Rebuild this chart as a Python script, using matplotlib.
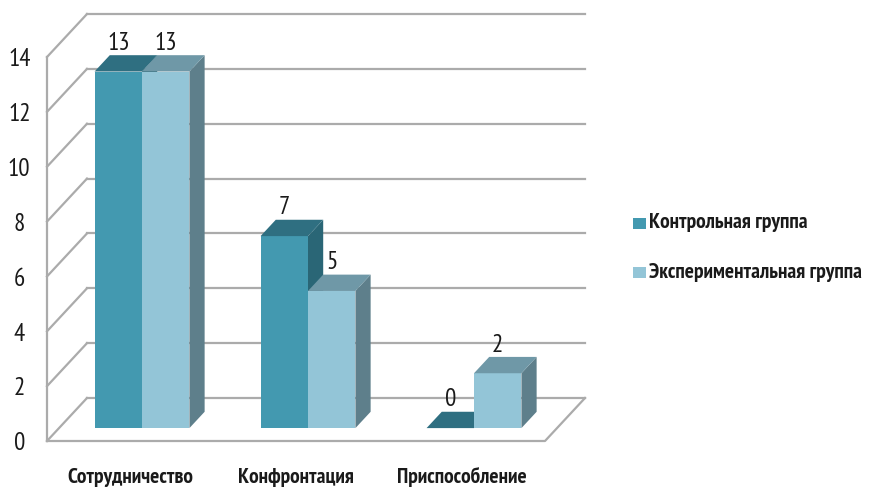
import matplotlib
matplotlib.use("Agg")
import matplotlib.pyplot as plt
from matplotlib.patches import Polygon

plt.rcParams['font.family'] = ['PT Sans Narrow', 'DejaVu Sans']

categories = ["Сотрудничество", "Конфронтация", "Приспособление"]
series_names = ["Контрольная группа", "Экспериментальная группа"]
control = [13, 7, 0]
experimental = [13, 5, 2]
yticks = [0, 2, 4, 6, 8, 10, 12, 14]

front_colors = ["#4399B0", "#93C5D7"]
top_colors = ["#2F6F81", "#6F98A7"]
side_colors = ["#2A6676", "#5E7F8B"]
grid_color = "#ABABAB"

W, H = 870, 488
fig = plt.figure(figsize=(W / 100, H / 100), dpi=100)
ax = fig.add_axes([47 / W, (H - 441) / H, (545 - 47) / W, (441 - 57) / H])
ax.set_xlim(-0.5, 2.5)
ax.set_ylim(0, 14)
ax.axis('off')

# depth vector (full depth) in data units
DX = 40 / 166.0
DY = 43 / 27.43

def P(x, y, d):
    return (x + DX * d, y + DY * d)

x0, x1 = -0.5, 2.5
ymax = yticks[-1]
lw = 1.6
# back wall gridlines and left-wall diagonals
for t in yticks:
    a = P(x0, t, 1); b = P(x1, t, 1)
    ax.plot([a[0], b[0]], [a[1], b[1]], color=grid_color, lw=lw, clip_on=False, zorder=1)
    c = P(x0, t, 0)
    ax.plot([c[0], a[0]], [c[1], a[1]], color=grid_color, lw=lw, clip_on=False, zorder=1)
# front left vertical
ax.plot([x0, x0], [0, ymax], color=grid_color, lw=lw, clip_on=False, zorder=1)
# floor front edge and right edge
a = P(x0, 0, 0); b = P(x1, 0, 0); c = P(x1, 0, 1)
ax.plot([a[0], b[0], c[0]], [a[1], b[1], c[1]], color=grid_color, lw=lw, clip_on=False, zorder=1)

# bars
bw = 1 / 3.5
d0, dd = 0.30, 0.38
z = 3
for i in range(len(categories)):
    for s, vals in enumerate([control, experimental]):
        v = vals[i]
        xl = i - bw + s * bw
        xr = xl + bw
        front = [P(xl, 0, d0), P(xr, 0, d0), P(xr, v, d0), P(xl, v, d0)]
        top = [P(xl, v, d0), P(xr, v, d0), P(xr, v, d0 + dd), P(xl, v, d0 + dd)]
        side = [P(xr, 0, d0), P(xr, 0, d0 + dd), P(xr, v, d0 + dd), P(xr, v, d0)]
        ax.add_patch(Polygon(side, closed=True, fc=side_colors[s], ec='none', zorder=z, clip_on=False))
        ax.add_patch(Polygon(front, closed=True, fc=front_colors[s], ec='none', zorder=z, clip_on=False))
        ax.add_patch(Polygon(top, closed=True, fc=top_colors[s], ec='none', zorder=z, clip_on=False))
        z += 1
        fx, fy = P((xl + xr) / 2, v, d0)
        ax.annotate(str(v), (fx, fy), xytext=(0, 12), textcoords='offset points',
                    ha='center', va='bottom', fontsize=18, color='#1a1a1a',
                    zorder=20, annotation_clip=False)

# y tick labels
for t in yticks:
    ax.annotate(str(t), (x0, t), xytext=(-20, -2), textcoords='offset points',
                ha='center', va='center', fontsize=18, color='#1a1a1a', annotation_clip=False)

# category labels
for i, cat in enumerate(categories):
    ax.annotate(cat, (i, 0), xytext=(0, -26), textcoords='offset points',
                ha='center', va='center', fontsize=15.5, fontweight='bold',
                color='#1a1a1a', annotation_clip=False)

# legend
fig_leg_y = [223, 272]
for s, name in enumerate(series_names):
    yy = 1 - fig_leg_y[s] / H
    fig.patches.append(Polygon([(633 / W, yy - 5.5 / H), (646 / W, yy - 5.5 / H),
                                (646 / W, yy + 5.5 / H), (633 / W, yy + 5.5 / H)],
                               closed=True, fc=front_colors[s], ec='none',
                               transform=fig.transFigure, figure=fig))
    fig.text(649 / W, yy, name, ha='left', va='center', fontsize=15.5,
             fontweight='bold', color='#1a1a1a')

fig.savefig("out.png", dpi=100)
